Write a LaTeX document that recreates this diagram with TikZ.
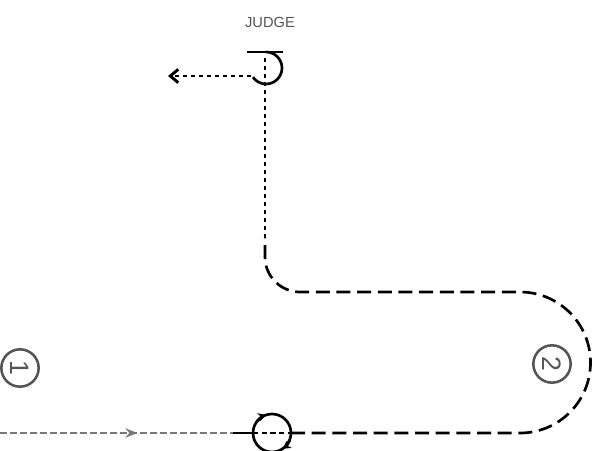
\documentclass[tikz,border=0pt]{standalone}
\usepackage{fontspec}
\setsansfont{Liberation Sans}
\usetikzlibrary{arrows.meta,decorations.markings}
\definecolor{pathgray}{RGB}{120,120,120}
\definecolor{labelgray}{RGB}{85,85,85}
\tikzset{every picture/.style={line width=0.75pt}}
\tikzset{
  longdash/.style={line width=2, dash pattern=on 10.5pt off 5pt},
  dotline/.style={line width=2.2, dash pattern=on 3pt off 3pt},
  numcircle/.style={circle, draw=labelgray, line width=1.9, minimum size=28pt, inner sep=0pt,
    text=labelgray, font=\sffamily\fontsize{20}{20}\selectfont, rotate=-90}
}

\begin{document}
\begin{tikzpicture}[x=0.75pt,y=0.75pt,yscale=-1,xscale=1]
	\useasboundingbox (0,0) rectangle (600,450);

	%Straight Lines [id:da4417302958811]
	\draw [pathgray, line width=1.9, dash pattern=on 5pt off 2.5pt, postaction={decorate},
	  decoration={markings, mark=at position 0.59 with {\pgfsetdash{}{0pt}\arrow{Stealth[length=9pt,width=7pt]}}}]
	  (0,433) -- (233,433) ;
	%Straight Lines [id:da0936618274251]
	\draw [line width=2]    (233,433) -- (253,433) ;
	%Shape: Circle [id:dp7725019383516]
	\draw [line width=2]    (272,433) circle (19) ;
	%Straight Lines [id:da2851630477962]
	\draw [line width=2, dash pattern=on 4pt off 2.5pt]    (253,433) -- (291,433) ;
	%Shape: Arc [id:dp3309126458815]
	\draw [line width=2, -{Stealth[length=6pt,width=6.5pt]}]    ([shift={(-140:19)}]272,433) arc (-140:-108:19) ;
	%Shape: Arc [id:dp5180234476092]
	\draw [line width=2, -{Stealth[length=6pt,width=6.5pt]}]    ([shift={(22:19)}]272,433) arc (22:56:19) ;
	%Curve Lines [id:da6620481937745]
	\draw [longdash]    (291,433) -- (520,433) arc (90:-90:70.5) -- (300,292) arc (90:180:35) -- (265,238) ;
	%Straight Lines [id:da1873026645309]
	\draw [dotline]    (265,238) -- (265,58) ;
	%Straight Lines [id:da7392640018275]
	\draw [line width=2]    (247,52) -- (283,52) ;
	%Shape: Arc [id:dp2046693117580]
	\draw [line width=2]    (266,52) arc (-90:145:16) ;
	%Straight Lines [id:da9458013327716]
	\draw [dotline, -{Straight Barb[length=6pt,width=10pt]}]    (251,76) -- (168,76) ;

	% Text Node
	\node [text=labelgray, font=\sffamily\fontsize{11}{13}\selectfont] (judge) at (270,22) {JUDGE};
	% Text Node
	\node [numcircle] (one) at (20,368) {1};
	% Text Node
	\node [numcircle] (two) at (552,364) {2};

\end{tikzpicture}
\end{document}
